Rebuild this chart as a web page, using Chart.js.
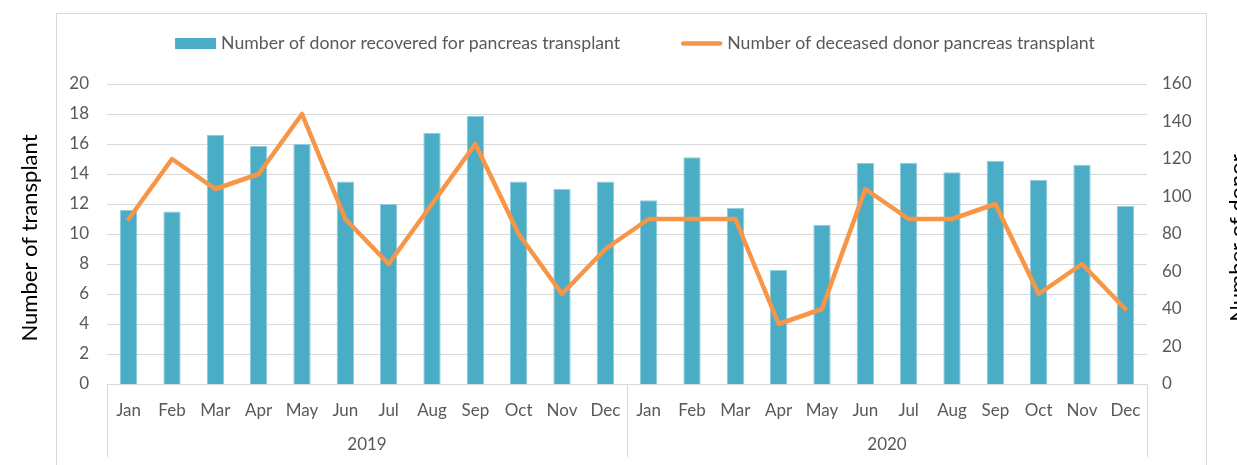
<!DOCTYPE html>
<html>
<head>
<meta charset="utf-8">
<script src="https://cdn.jsdelivr.net/npm/chart.js@4.4.1/dist/chart.umd.min.js"></script>
<style>
  html, body { margin: 0; padding: 0; background: #ffffff; }
  #wrap { position: relative; width: 1237px; height: 465px; }
</style>
</head>
<body>
<div id="wrap"><canvas id="c" width="1237" height="465"></canvas></div>
<script>
// ---- data ----
const months = ['Jan','Feb','Mar','Apr','May','Jun','Jul','Aug','Sep','Oct','Nov','Dec'];
const years = ['2019', '2020'];
const categories = years.flatMap(() => months);
const donorsRecovered = [93, 92, 133, 127, 128, 108, 96, 134, 143, 108, 104, 108,
                         98, 121, 94, 61, 85, 118, 118, 113, 119, 109, 117, 95];
const transplants = [11, 15, 13, 14, 18, 11, 8, 12, 16, 10, 6, 9,
                     11, 11, 11, 4, 5, 13, 11, 11, 12, 6, 8, 5];
const leftTicksMax = 20, leftStep = 2;
const rightTicksMax = 160, rightStep = 20;
const leftTitle = 'Number of transplant';
const rightTitle = 'Number of donor';
const barLabel = 'Number of donor recovered for pancreas transplant';
const lineLabel = 'Number of deceased donor pancreas transplant';

// ---- styles ----
const FONT = 'Lato, "Open Sans", sans-serif';
const GRAY = '#595959';
const GRID = '#D9D9D9';
const BAR = '#4BACC6';
const LINE = '#F79646';

const decor = {
  id: 'decor',
  afterDraw(chart) {
    const ctx = chart.ctx;
    const ca = chart.chartArea;
    const x = chart.scales.x;
    ctx.save();
    // outer frame
    ctx.strokeStyle = GRID;
    ctx.lineWidth = 1;
    ctx.strokeRect(56.5, 13.5, 1150, 480);

    // year group separators and labels
    const n = categories.length;
    const cw = (x.right - x.left) / n;
    ctx.strokeStyle = GRID;
    ctx.beginPath();
    for (let g = 0; g <= years.length; g++) {
      const idx = g * months.length;
      const px = Math.round(x.left + idx * cw) + 0.5;
      ctx.moveTo(px, ca.bottom);
      ctx.lineTo(px, ca.bottom + 73);
    }
    ctx.stroke();
    ctx.fillStyle = GRAY;
    ctx.font = '17px ' + FONT;
    ctx.textAlign = 'center';
    ctx.textBaseline = 'middle';
    years.forEach((yr, g) => {
      const a = x.getPixelForValue(g * months.length);
      const b = x.getPixelForValue(g * months.length + months.length - 1);
      ctx.fillText(yr, (a + b) / 2, ca.bottom + 61);
    });

    // axis titles
    ctx.fillStyle = '#000000';
    ctx.font = '22px ' + FONT;
    const cy = (ca.top + ca.bottom) / 2 + 4;
    ctx.save();
    ctx.translate(30, cy);
    ctx.rotate(-Math.PI / 2);
    ctx.fillText(leftTitle, 0, 0);
    ctx.restore();
    ctx.save();
    ctx.translate(1238, cy);
    ctx.rotate(-Math.PI / 2);
    ctx.fillText(rightTitle, 0, 0);
    ctx.restore();

    // legend
    ctx.font = '17.7px ' + FONT;
    ctx.textAlign = 'left';
    const ds = chart.data.datasets;
    const boxW = 41, gap = 5, itemGap = 61;
    const widths = ds.map(d => boxW + gap + ctx.measureText(d.label).width);
    const total = widths.reduce((s, w) => s + w, 0) + itemGap * (ds.length - 1);
    let lx = (ca.left + ca.right) / 2 + 8 - total / 2;
    const ly = 43.5;
    ds.forEach((d, i) => {
      if (d.type === 'line') {
        ctx.strokeStyle = d.borderColor;
        ctx.lineWidth = 4.5;
        ctx.lineCap = 'round';
        ctx.beginPath();
        ctx.moveTo(lx + 2, ly);
        ctx.lineTo(lx + boxW - 2, ly);
        ctx.stroke();
      } else {
        ctx.fillStyle = d.backgroundColor;
        ctx.fillRect(lx, ly - 5.5, boxW, 11);
      }
      ctx.fillStyle = GRAY;
      ctx.fillText(d.label, lx + boxW + gap, ly);
      lx += widths[i] + itemGap;
    });
    ctx.restore();
  }
};

new Chart(document.getElementById('c'), {
  data: {
    labels: categories,
    datasets: [
      {
        type: 'bar',
        label: barLabel,
        data: donorsRecovered,
        yAxisID: 'y1',
        backgroundColor: BAR,
        borderColor: '#8FCEDE',
        borderWidth: 1,
        barPercentage: 0.4,
        categoryPercentage: 1.0,
        order: 2
      },
      {
        type: 'line',
        label: lineLabel,
        data: transplants,
        yAxisID: 'y',
        borderColor: LINE,
        backgroundColor: LINE,
        borderWidth: 4.5,
        pointRadius: 0,
        tension: 0,
        borderJoinStyle: 'round',
        borderCapStyle: 'round',
        order: 1
      }
    ]
  },
  options: {
    responsive: false,
    animation: false,
    devicePixelRatio: 1,
    layout: { padding: { left: 56, right: 30, top: 84, bottom: 0 } },
    plugins: { legend: { display: false }, tooltip: { enabled: false } },
    scales: {
      x: {
        type: 'category',
        grid: { display: false, drawTicks: false },
        border: { display: true, color: GRID, width: 1 },
        ticks: { color: GRAY, font: { family: FONT, size: 17 }, padding: 16, maxRotation: 0, autoSkip: false },
        afterFit: s => { s.height = 81; }
      },
      y: {
        position: 'left',
        min: 0, max: leftTicksMax,
        ticks: { stepSize: leftStep, color: GRAY, font: { family: FONT, size: 17 }, padding: 18 },
        grid: { color: GRID, drawTicks: false },
        border: { display: false },
        afterFit: s => { s.width = 51; }
      },
      y1: {
        position: 'right',
        min: 0, max: rightTicksMax,
        ticks: { stepSize: rightStep, color: GRAY, font: { family: FONT, size: 17 }, padding: 15 },
        grid: { display: false, drawTicks: false },
        border: { display: false },
        afterFit: s => { s.width = 60; }
      }
    }
  },
  plugins: [decor]
});
</script>
</body>
</html>
